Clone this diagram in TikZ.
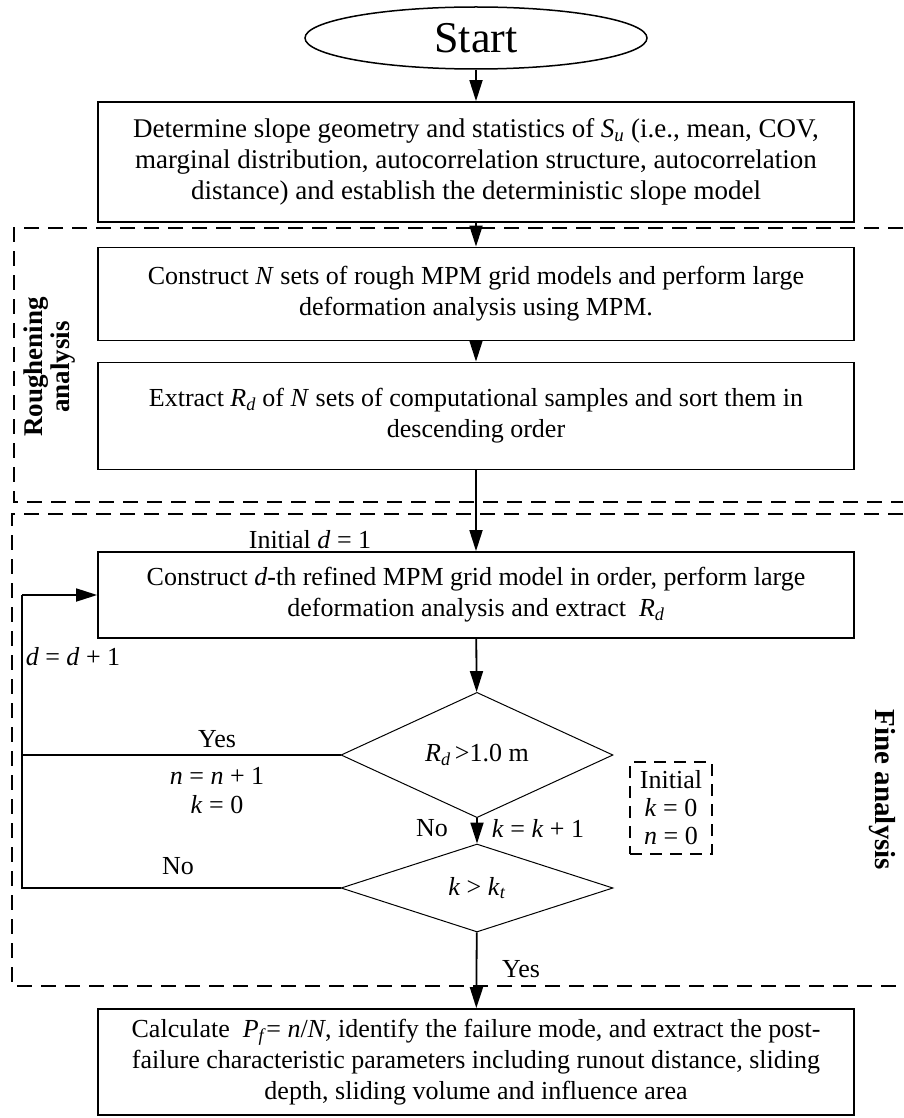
\documentclass[tikz,border=0pt]{standalone}
\usepackage{fontspec}
\setmainfont{Liberation Serif}
\usetikzlibrary{shapes.geometric,arrows.meta}
\newcommand{\vi}[1]{\textit{#1}}
\newcommand{\vsub}[2]{\textit{#1}\textsubscript{\textit{#2}}}

\begin{document}
\begin{tikzpicture}[x=1pt, y=-1pt, font=\fontsize{26}{31}\selectfont,
     every node/.style={align=center},
     process/.style={draw, line width=1.8pt, minimum width=756pt, inner sep=0pt},
     decision/.style={draw, diamond, line width=1pt, minimum width=272pt, minimum height=88pt, inner sep=0pt},
     region/.style={line width=1.8pt, dash pattern=on 15pt off 9pt},
     flow/.style={line width=1.8pt, -{Triangle[length=21pt,width=13pt]}},
     backline/.style={line width=2.4pt}]

   \useasboundingbox (0,0) rectangle (903,1118);

   % main chain
   \node[draw, ellipse, line width=1.5pt, minimum width=342pt, minimum height=62pt, font=\fontsize{44}{44}\selectfont] (start) at (476,38) {Start};
   \node[process, minimum height=120pt, font=\fontsize{27}{31}\selectfont] (geom) at (476,162) {Determine slope geometry and statistics of \vsub{S}{u} (i.e., mean, COV,\\ marginal distribution, autocorrelation structure, autocorrelation\\ distance) and establish the deterministic slope model};
   \node[process, minimum height=93pt] (rough) at (476,294) {Construct \vi{N} sets of rough MPM grid models and perform large\\ deformation analysis using MPM.};
   \node[process, minimum height=107pt] (extract) at (476,416) {Extract \vsub{R}{d} of \vi{N} sets of computational samples and sort them in\\ descending order};
   \node[process, minimum height=86pt] (refine) at (476,595) {Construct \vi{d}-th refined MPM grid model in order, perform large\\ deformation analysis and extract~ \vsub{R}{d}};
   \node[decision] (check) at (477,755) {\vsub{R}{d}\,>1.0 m};
   \node[decision] (limit) at (477,888) {\vi{k} > \vsub{k}{t}};
   \node[process, minimum height=106pt] (calc) at (476,1062) {Calculate~ \vsub{P}{f}= \vi{n}/\vi{N}, identify the failure mode, and extract the post-\\ failure characteristic parameters including runout distance, sliding\\ depth, sliding volume and influence area};

   % side notes
   \node (initd) at (310,540) {Initial \vi{d} = 1};
   \node (incd) at (73,657) {\vi{d} = \vi{d} + 1};
   \node (yes1) at (217,739) {Yes};
   \node (incn) at (217,776) {\vi{n} = \vi{n} + 1};
   \node (resk) at (217,805) {\vi{k} = 0};
   \node (no1) at (432,828) {No};
   \node (inck) at (538,828) {\vi{k} = \vi{k} + 1};
   \node (no2) at (178,866) {No};
   \node (yes2) at (521,969) {Yes};
   \node[draw, line width=1.5pt, dash pattern=on 12pt off 8pt, minimum width=82pt, minimum height=92pt, inner sep=0pt, font=\fontsize{26}{28}\selectfont] (init) at (671,808) {Initial\\ \vi{k} = 0\\ \vi{n} = 0};

   % regions
   \draw[region] (903,228) -| (14,502) -- (903,502);
   \draw[region] (903,514) -| (12,986) -- (903,986);
   \node[rotate=90, font=\fontsize{27}{27}\selectfont\bfseries] (roughlab) at (50,367) {Roughening\\ analysis};
   \node[rotate=-90, font=\fontsize{29}{29}\selectfont\bfseries] (finelab) at (882,790) {Fine analysis};

   % connectors
   \coordinate (rail) at (22,0);
   \draw[flow] (start) -- (geom);
   \draw[flow] (geom) -- (rough);
   \draw[flow] (rough) -- (extract);
   \draw[flow] (extract) -- (refine);
   \draw[flow] (refine) -- (check);
   \draw[flow] (check) -- (limit);
   \draw[flow] (limit) -- (calc);
   \draw[backline] (check.west) -- (check.west -| rail);
   \draw[backline] (limit.west) -- (limit.west -| rail) -- (refine.west -| rail);
   \draw[flow] (refine.west -| rail) -- (refine.west);
\end{tikzpicture}
\end{document}
